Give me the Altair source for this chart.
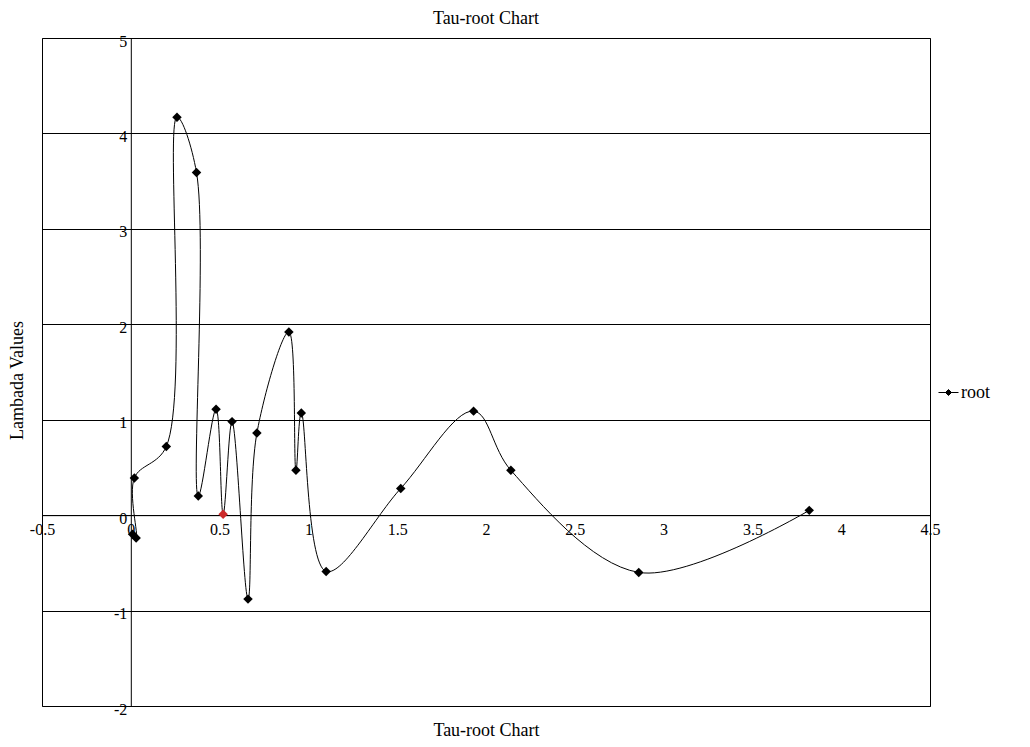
import altair as alt
import pandas as pd

# Tau values (x) and lambda values (y) of the root trace, in drawing order
tau = [0.01, 0.03, 0.02, 0.20, 0.26, 0.37, 0.38, 0.48, 0.52, 0.57, 0.66,
       0.71, 0.89, 0.93, 0.96, 1.10, 1.52, 1.93, 2.14, 2.86, 3.82]
lam = [-0.20, -0.24, 0.39, 0.72, 4.17, 3.59, 0.20, 1.11, 0.01, 0.98, -0.88,
       0.86, 1.92, 0.47, 1.07, -0.59, 0.28, 1.09, 0.47, -0.60, 0.05]
series_name = "root"
marked_step = 8  # the point shown in red

x_ticks = [-0.5, 0, 0.5, 1, 1.5, 2, 2.5, 3, 3.5, 4, 4.5]
y_ticks = [-2, -1, 0, 1, 2, 3, 4, 5]

df = pd.DataFrame({"tau": tau, "lam": lam})
df["step"] = range(len(df))
df["series"] = series_name

FONT = "Liberation Serif"
W, H = 888, 668
X_DOMAIN = [-0.5, 4.5]
Y_DOMAIN = [-2, 5]

# axes cross at the origin: shift each axis inward to the zero line
x_axis_shift = H * (0 - Y_DOMAIN[0]) / (Y_DOMAIN[1] - Y_DOMAIN[0])
y_axis_shift = W * (0 - X_DOMAIN[0]) / (X_DOMAIN[1] - X_DOMAIN[0])

x_enc = alt.X(
    "tau:Q",
    scale=alt.Scale(domain=X_DOMAIN, nice=False, zero=False),
    axis=alt.Axis(
        values=x_ticks, labelExpr="'' + datum.value", offset=-x_axis_shift,
        grid=False, ticks=False, domainColor="black", domainWidth=1,
        labelFont=FONT, labelFontSize=16, labelColor="black", labelPadding=6,
        labelFlush=False, labelOverlap=False,
        title="Tau-root Chart", titleFont=FONT, titleFontSize=18,
        titleFontWeight="normal", titleColor="black",
        titleX=W / 2, titleY=215, titleBaseline="middle",
    ),
)
y_enc = alt.Y(
    "lam:Q",
    scale=alt.Scale(domain=Y_DOMAIN, nice=False, zero=False),
    axis=alt.Axis(
        values=y_ticks, labelExpr="'' + datum.value", offset=-y_axis_shift,
        grid=True, gridColor="black", gridWidth=1, gridOpacity=1,
        ticks=False, domainColor="black", domainWidth=1,
        labelFont=FONT, labelFontSize=16, labelColor="black", labelPadding=4,
        labelFlush=False, labelOverlap=False, labelBaseline="middle",
        labelOffset=3,
        title="Lambada Values", titleFont=FONT, titleFontSize=18,
        titleFontWeight="normal", titleColor="black",
        titleX=-113, titleY=342, titleBaseline="middle", titleAngle=-90,
    ),
)

base = alt.Chart(df)

trace = base.mark_line(interpolate="catmull-rom", strokeWidth=1).encode(
    x=x_enc,
    y=y_enc,
    order="step:Q",
    color=alt.Color(
        "series:N",
        scale=alt.Scale(range=["black"]),
        legend=alt.Legend(
            title=None, orient="none", legendX=896, legendY=344,
            symbolType="M-1,0H1M0,-0.3L0.3,0L0,0.3L-0.3,0Z",
            symbolSize=400, symbolStrokeWidth=1,
            symbolFillColor="black", symbolStrokeColor="black",
            labelFont=FONT, labelFontSize=18, labelColor="black",
            labelOffset=2, padding=0,
        ),
    ),
)

markers = base.mark_point(shape="diamond", filled=True, size=90, opacity=1).encode(
    x="tau:Q",
    y="lam:Q",
    fill=alt.condition(f"datum.step == {marked_step}", alt.value("#cc2a2a"), alt.value("black")),
)

chart = (
    alt.layer(trace, markers)
    .properties(
        width=W,
        height=H,
        title=alt.TitleParams(
            "Tau-root Chart", font=FONT, fontSize=18, fontWeight="normal",
            color="black", anchor="middle", frame="group", offset=-13,
            baseline="bottom",
        ),
        autosize=alt.AutoSizeParams(type="none"),
        padding={"left": 42, "top": 38, "right": 100, "bottom": 41},
        background="white",
    )
    .configure_view(stroke="black", strokeWidth=1)
)

chart.save("out.html", embed_options={"renderer": "svg", "actions": False})
